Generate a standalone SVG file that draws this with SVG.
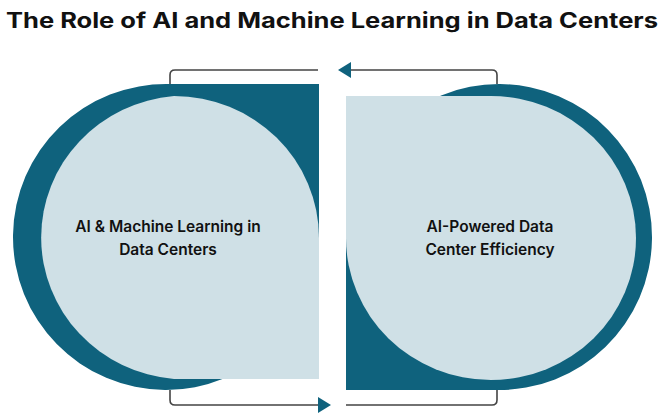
<svg xmlns="http://www.w3.org/2000/svg" width="664" height="414" viewBox="0 0 664 414">
<style>
.dark{fill:#0f627d}
.light{fill:#cfe0e6}
.con{fill:none;stroke:#444;stroke-width:1.6}
.ah{fill:#0f627d}
.lbl{font-family:Inter,"Liberation Sans",sans-serif;font-size:15.5px;font-weight:600;fill:#111;text-anchor:middle}
.title{font-family:Inter,"Liberation Sans",sans-serif;font-size:21px;font-weight:700;fill:#111;text-anchor:middle}
</style>
<rect width="664" height="414" fill="#fff"/>
<text class="title" x="332" y="28" textLength="652" lengthAdjust="spacingAndGlyphs">The Role of AI and Machine Learning in Data Centers</text>
<g id="connectors">
<path class="con" d="M170,84 V75 Q170,70 175,70 H318"/>
<path class="con" d="M351,70 H492 Q497,70 497,75 V84"/>
<polygon class="ah" points="338,70 351,62 351,78"/>
<path class="con" d="M170,390 V400 Q170,405 175,405 H318"/>
<polygon class="ah" points="331,405 318,397 318,413"/>
<path class="con" d="M346,405 H492 Q497,405 497,400 V390"/>
</g>
<g id="node-left">
<path class="dark" d="M319,84 V237 A153,153 0 1 1 169,84 Z"/>
<path class="light" d="M174,96 A145,142 0 0 1 319,238 V379 H174 A145,142 0 0 1 174,96 Z"/>
<text class="lbl" x="168" y="232">AI &amp; Machine Learning in</text>
<text class="lbl" x="168" y="255">Data Centers</text>
</g>
<g id="node-right">
<path class="dark" d="M346,390 V237 A153,153 0 1 1 496,390 Z"/>
<path class="light" d="M491,380 A145,142 0 0 1 346,238 V96 H491 A145,142 0 0 1 491,380 Z"/>
<text class="lbl" x="490" y="232">AI-Powered Data</text>
<text class="lbl" x="490" y="255">Center Efficiency</text>
</g>
</svg>
